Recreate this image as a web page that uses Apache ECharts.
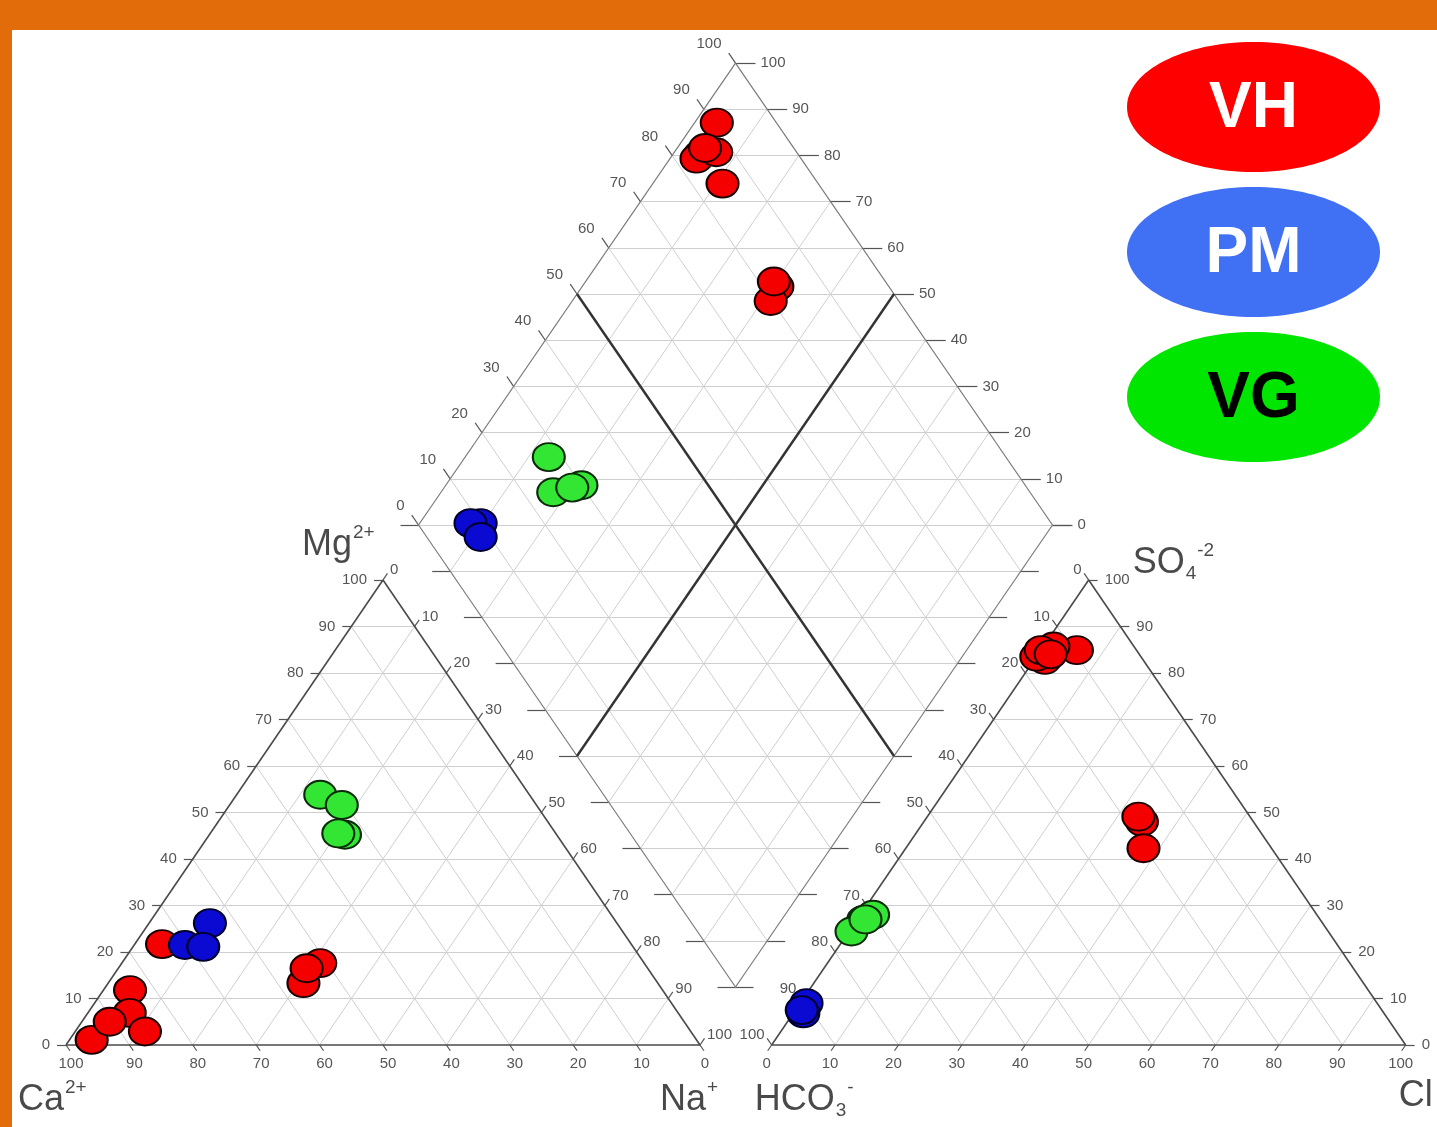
<!DOCTYPE html>
<html>
<head>
<meta charset="utf-8">
<script src="https://cdn.jsdelivr.net/npm/echarts@6/dist/echarts.min.js"></script>
<style>
  html, body { margin: 0; padding: 0; background: #ffffff; }
  #chart { width: 1437px; height: 1127px; }
</style>
</head>
<body>
<div id="chart"></div>
<script>
// ---- Sample compositions (meq %) ----
// cations: [Ca, Mg, Na+K]   anions: [HCO3, SO4, Cl]
const vhCations = [[95.4, 1.1, 3.5], [74.0, 21.7, 4.3], [84.0, 11.8, 4.2], [86.5, 6.9, 6.6], [86.1, 2.9, 11.0],
                   [90.6, 5.0, 4.4], [55.9, 13.3, 30.8], [51.1, 17.6, 31.3], [53.8, 16.5, 29.7]];
const vhAnions   = [[9.4, 84.9, 5.7], [15.5, 82.8, 1.7], [16.5, 83.5, 0.0], [12.7, 85.7, 1.6], [15.1, 84.9, 0.0],
                   [14.0, 84.0, 2.0], [17.6, 48.0, 34.4], [20.2, 42.3, 37.5], [17.6, 49.1, 33.3]];
const pmCations = [[64.2, 26.2, 9.6], [70.5, 21.5, 8.0], [67.8, 21.1, 11.1]];
const pmAnions   = [[90.0, 9.0, 1.0], [91.6, 6.8, 1.6], [91.5, 7.5, 1.0]];
const vgCations = [[33.0, 53.8, 13.2], [30.7, 51.6, 17.7], [33.4, 45.2, 21.4], [34.3, 45.5, 20.2]];
const vgAnions   = [[72.1, 26.9, 1.0], [75.2, 24.4, 0.4], [70.0, 28.0, 2.0], [71.7, 27.0, 1.3]];

const groupNames = ['VH', 'PM', 'VG'];
const tickValues = [0, 10, 20, 30, 40, 50, 60, 70, 80, 90, 100];

// ---- Piper layout (plot units: triangle side = 100) ----
const S3 = Math.sqrt(3) / 2;
const ANION_X0 = 111.3;                                 // left corner of the anion triangle
const DIAMOND = { cx: 105.6, cy: 96.83, hw: 50, hh: 86.03 };
const PX_X = 6.34, PX_Y = 5.37;                         // pixels per plot unit
const X_MIN = -66 / PX_X, X_MAX = (1437 - 66) / PX_X;
const Y_MIN = -(1127 - 1045) / PX_Y, Y_MAX = 1045 / PX_Y;

function cationXY(ca, mg, na) { return [na + mg / 2, mg * S3]; }
function anionXY(hco3, so4, cl) { return [ANION_X0 + cl + so4 / 2, so4 * S3]; }
function diamondXY(caMg, so4Cl) {       // fractions 0..1
  return [DIAMOND.cx + DIAMOND.hw * (so4Cl - caMg),
          DIAMOND.cy - DIAMOND.hh + DIAMOND.hh * (caMg + so4Cl)];
}
function lerp(a, b, t) { return [a[0] + (b[0] - a[0]) * t, a[1] + (b[1] - a[1]) * t]; }
function shift(p, dx, dy) { return [p[0] + dx / PX_X, p[1] - dy / PX_Y]; }

// ---- Frame, grid and tick segments ----
const gridSegs = [], edgeSegs = [], boldSegs = [], tickSegs = [], diamondEdgeSegs = [];

function triangleGrid(o) {
  for (let v = 10; v < 100; v += 10) {
    gridSegs.push([[o + v / 2, v * S3], [o + 100 - v / 2, v * S3]]);
    gridSegs.push([[o + v, 0], [o + v + (100 - v) / 2, (100 - v) * S3]]);
    gridSegs.push([[o + v, 0], [o + v / 2, v * S3]]);
  }
  edgeSegs.push([[o, 0], [o + 100, 0]], [[o, 0], [o + 50, 100 * S3]], [[o + 100, 0], [o + 50, 100 * S3]]);
}
triangleGrid(0);
triangleGrid(ANION_X0);

const dT = diamondXY(1, 1), dL = diamondXY(1, 0), dR = diamondXY(0, 1), dB = diamondXY(0, 0);
for (let j = 1; j < 10; j++) {
  const t = j / 10;
  const s1 = [lerp(dT, dR, t), lerp(dL, dB, t)];
  const s2 = [lerp(dT, dL, t), lerp(dR, dB, t)];
  if (j === 5) { boldSegs.push(s1, s2); } else { gridSegs.push(s1, s2); }
}
for (let k = 1; k < 20; k++) {
  const y = dB[1] + (dT[1] - dB[1]) * k / 20;
  const half = DIAMOND.hw * (1 - Math.abs(y - DIAMOND.cy) / DIAMOND.hh);
  gridSegs.push([[DIAMOND.cx - half, y], [DIAMOND.cx + half, y]]);
}
diamondEdgeSegs.push([dT, dL], [dL, dB], [dB, dR], [dR, dT]);

// ---- Tick labels ----
const labelSets = [];
function addAxis(points, texts, dir, len, pos, align) {
  const items = points.map((p, i) => {
    tickSegs.push([p, shift(p, dir[0] * len, dir[1] * len)]);
    return { value: p, name: String(texts[i]) };
  });
  labelSets.push({ items, pos, align });
}
addAxis(tickValues.map(v => cationXY(v, 0, 100 - v)), tickValues, [0.563, 0.826], 7, [5, 19], 'center');
addAxis(tickValues.map(v => cationXY(100 - v, v, 0)), tickValues, [-1, 0], 9, [-16, 0], 'right');
addAxis(tickValues.map(v => cationXY(0, 100 - v, v)), tickValues, [0.563, -0.826], 8, [7, -10], 'left');
addAxis(tickValues.map(v => anionXY(100 - v, 0, v)), tickValues, [-0.563, 0.826], 7, [-5, 19], 'center');
addAxis(tickValues.map(v => anionXY(0, v, 100 - v)), tickValues, [1, 0], 9, [16, 0], 'left');
addAxis(tickValues.map(v => anionXY(v, 100 - v, 0)), tickValues, [-0.563, -0.826], 8, [-7, -10], 'right');
addAxis(tickValues.map(v => diamondXY(1, v / 100)), tickValues, [-0.564, -0.825], 12, [-14, -19], 'right');
addAxis(tickValues.map(v => diamondXY(v / 100, 1)), tickValues, [1, 0], 20, [25, 0], 'left');
for (let k = 0; k <= 10; k++) {
  const pl = lerp(dL, dB, k / 10), pr = lerp(dR, dB, k / 10);
  tickSegs.push([pl, shift(pl, -18, 0)], [pr, shift(pr, 18, 0)]);
}

// ---- Axis titles, anchored at the corners ----
const titleItems = [
  { at: cationXY(100, 0, 0), text: '{m|Ca}{sup|2+}', pos: [-48, 55] },
  { at: cationXY(0, 0, 100), text: '{m|Na}{sup|+}', pos: [-40, 55] },
  { at: cationXY(0, 100, 0), text: '{m|Mg}{sup|2+}', pos: [-81, -35] },
  { at: anionXY(100, 0, 0), text: '{m|HCO}{sub|3}{sup|-}', pos: [-17, 55] },
  { at: anionXY(0, 0, 100), text: '{m|Cl}', pos: [-7, 51] },
  { at: anionXY(0, 100, 0), text: '{m|SO}{sub|4}{sup|-2}', pos: [44, -17] }
];

const FONT = 'Liberation Sans, Arial, Helvetica, sans-serif';
const TEXT_DARK = '#1c1c1c';

function segSeries(segs, color, width, z) {
  return {
    type: 'lines', coordinateSystem: 'cartesian2d', polyline: false, silent: true, z,
    data: segs.map(s => ({ coords: s })),
    lineStyle: { color, width, opacity: 1, type: 'solid' }
  };
}

function markerSeries(name, cations, anions, color, border) {
  const data = [];
  cations.forEach((c, i) => {
    const a = anions[i];
    data.push(cationXY(c[0], c[1], c[2]));
    data.push(anionXY(a[0], a[1], a[2]));
    data.push(diamondXY((c[0] + c[1]) / 100, (a[1] + a[2]) / 100));
  });
  return {
    type: 'scatter', name, data, z: 10, symbol: 'circle', symbolSize: [32, 28],
    itemStyle: { color, borderColor: border, borderWidth: 2, opacity: 1 }
  };
}

const series = [
  segSeries(gridSegs, '#cfcfcf', 1, 1),
  segSeries(tickSegs, '#555555', 1.2, 2),
  segSeries(diamondEdgeSegs, '#7a7a7a', 1.2, 3),
  segSeries(edgeSegs, '#4a4a4a', 1.6, 3),
  segSeries(boldSegs, '#333333', 2.4, 4)
];
labelSets.forEach(set => {
  series.push({
    type: 'scatter', symbolSize: 0, silent: true, z: 6,
    data: set.items,
    label: {
      show: true, formatter: '{b}', position: set.pos, align: set.align, verticalAlign: 'middle',
      color: '#2a2a2a', fontSize: 15, fontFamily: FONT
    }
  });
});
series.push({
  type: 'scatter', symbolSize: 0, silent: true, z: 6,
  data: titleItems.map(t => ({ value: t.at, name: t.text, label: { position: t.pos } })),
  label: {
    show: true, formatter: '{b}', align: 'left', verticalAlign: 'middle',
    color: TEXT_DARK, fontFamily: FONT, textBorderWidth: 0,
    rich: {
      m: { fontSize: 36, color: TEXT_DARK, fontFamily: FONT, lineHeight: 44, verticalAlign: 'middle' },
      sup: { fontSize: 19, color: TEXT_DARK, fontFamily: FONT, lineHeight: 44, verticalAlign: 'top', padding: [0, 0, 0, 1] },
      sub: { fontSize: 19, color: TEXT_DARK, fontFamily: FONT, lineHeight: 44, verticalAlign: 'bottom', padding: [0, 0, 2, 1] }
    }
  }
});
series.push(markerSeries(groupNames[0], vhCations, vhAnions, '#f40000', '#1a0000'));
series.push(markerSeries(groupNames[1], pmCations, pmAnions, '#0a0ad2', '#00002a'));
series.push(markerSeries(groupNames[2], vgCations, vgAnions, '#33e633', '#0a2a0a'));

// ---- Group key: coloured ellipses ----
const keyStyle = [
  { name: groupNames[0], fill: '#ff0000', text: '#ffffff', cy: 107 },
  { name: groupNames[1], fill: '#4070f4', text: '#ffffff', cy: 252 },
  { name: groupNames[2], fill: '#00e600', text: '#000000', cy: 397 }
];
const graphic = [
  { type: 'rect', shape: { x: 0, y: 0, width: 1437, height: 30 }, style: { fill: '#e36c0a' }, z: 100 },
  { type: 'rect', shape: { x: 0, y: 0, width: 12, height: 1127 }, style: { fill: '#e36c0a' }, z: 100 }
];
keyStyle.forEach(k => {
  graphic.push({ type: 'ellipse', shape: { cx: 1253.5, cy: k.cy, rx: 126.5, ry: 65 }, style: { fill: k.fill }, z: 50 });
  graphic.push({
    type: 'text', x: 1253.5, y: k.cy + 2, z: 51,
    style: { text: k.name, fill: k.text, font: 'bold 64px ' + FONT, align: 'center', verticalAlign: 'middle' }
  });
});

const chart = echarts.init(document.getElementById('chart'), null, { renderer: 'canvas' });
chart.setOption({
  backgroundColor: '#ffffff',
  animation: false,
  grid: { left: 0, right: 0, top: 0, bottom: 0 },
  xAxis: { type: 'value', min: X_MIN, max: X_MAX, show: false },
  yAxis: { type: 'value', min: Y_MIN, max: Y_MAX, show: false },
  series,
  graphic
});
</script>
</body>
</html>
